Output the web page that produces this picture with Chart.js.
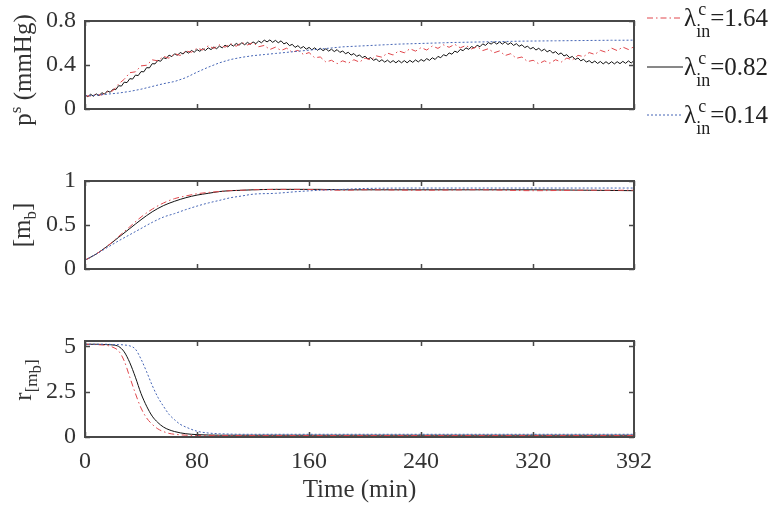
<!DOCTYPE html>
<html>
<head>
<meta charset="utf-8">
<script src="https://cdn.jsdelivr.net/npm/chart.js@4/dist/chart.umd.min.js"></script>
<style>
  body { margin: 0; background: #fff; }
  #wrap { position: relative; width: 776px; height: 508px; font-family: "Liberation Serif", "Times New Roman", serif; color: #333; }
  canvas { position: absolute; left: 0; }
  .ytitle { position: absolute; transform: translate(-50%, -50%) rotate(-90deg); white-space: nowrap; font-size: 25px; line-height: 1; }
  .ytitle sup, .ytitle sub { font-size: 17px; line-height: 0; }
  .leg { position: absolute; left: 647px; height: 30px; display: flex; align-items: center; font-size: 25px; color: #222; white-space: nowrap; }
  .leg svg { margin-right: 1px; }
  .ss { display: inline-block; position: relative; width: 14px; height: 30px; }
  .ss .c { position: absolute; left: 2px; top: -4px; font-size: 18px; }
  .ss .in { position: absolute; left: 0; top: 18px; font-size: 18px; }
</style>
</head>
<body>
<div id="wrap">
  <canvas id="pTop" width="776" height="130" style="top:0"></canvas>
  <canvas id="pMid" width="776" height="130" style="top:160px"></canvas>
  <canvas id="pBot" width="776" height="188" style="top:320px"></canvas>

  <div class="ytitle" style="left:22px;top:70px">p<sup>s</sup> (mmHg)</div>
  <div class="ytitle" style="left:21px;top:225px">[m<sub>b</sub>]</div>
  <div class="ytitle" style="left:23px;top:380px">r<sub>[m<sub>b</sub>]</sub></div>

  <div class="leg" style="top:3px">
    <svg width="36" height="4"><line x1="0" y1="2" x2="36" y2="2" stroke="#e0474c" stroke-width="1" stroke-dasharray="6,3,1.5,3"/></svg>
    <span>λ</span><span class="ss"><span class="c">c</span><span class="in">in</span></span><span>=1.64</span>
  </div>
  <div class="leg" style="top:52px">
    <svg width="36" height="4"><line x1="0" y1="2" x2="36" y2="2" stroke="#111" stroke-width="1"/></svg>
    <span>λ</span><span class="ss"><span class="c">c</span><span class="in">in</span></span><span>=0.82</span>
  </div>
  <div class="leg" style="top:100px">
    <svg width="36" height="4"><line x1="0" y1="2" x2="36" y2="2" stroke="#4565b5" stroke-width="1" stroke-dasharray="2,2"/></svg>
    <span>λ</span><span class="ss"><span class="c">c</span><span class="in">in</span></span><span>=0.14</span>
  </div>
</div>

<script>
// ---- data ----
const xTicks = [0, 80, 160, 240, 320, 392];
const yTicksTop = [0, 0.4, 0.8];
const yTicksMid = [0, 0.5, 1];
const yTicksBot = [0, 2.5, 5];

// p^s, lambda=0.82, sampled every 2 min
const psBlack = [
  .130, .112, .134, .116, .138, .120, .148, .136, .164, .152,
  .180, .176, .212, .208, .244, .240, .276, .272, .308, .304,
  .340, .338, .376, .374, .412, .410, .442, .434, .466, .458,
  .490, .476, .502, .488, .514, .500, .524, .508, .532, .516,
  .540, .524, .548, .532, .556, .540, .564, .548, .572, .556,
  .580, .564, .588, .572, .596, .580, .602, .584, .606, .588,
  .610, .594, .618, .602, .626, .610, .628, .606, .624, .602,
  .620, .592, .604, .576, .588, .560, .576, .552, .568, .544,
  .560, .538, .556, .534, .552, .530, .548, .526, .544, .522,
  .540, .514, .528, .502, .516, .490, .504, .478, .492, .466,
  .480, .454, .468, .442, .456, .430, .448, .426, .444, .422,
  .440, .420, .440, .420, .440, .420, .442, .424, .446, .428,
  .450, .434, .458, .442, .466, .450, .478, .466, .494, .482,
  .510, .498, .526, .514, .542, .530, .556, .542, .568, .554,
  .580, .566, .592, .578, .604, .590, .610, .590, .610, .590,
  .610, .586, .602, .578, .594, .570, .584, .558, .572, .546,
  .560, .536, .552, .528, .544, .520, .534, .508, .522, .496,
  .510, .482, .494, .466, .478, .450, .464, .438, .452, .426,
  .440, .418, .436, .414, .432, .410, .430, .410, .430, .410,
  .430, .412, .433, .415, .437, .418, .440
];
// p^s, lambda=1.64, sampled every 4 min
const psRed = [
  .120, .118, .130, .128, .156, .166, .228, .270, .330, .338,
  .392, .398, .447, .438, .478, .462, .503, .487, .528, .516,
  .553, .537, .574, .551, .584, .562, .593, .571, .604, .582,
  .603, .566, .578, .541, .562, .532, .553, .516, .533, .496,
  .513, .466, .473, .427, .443, .412, .438, .417, .448, .426,
  .463, .446, .483, .471, .508, .491, .528, .511, .548, .526,
  .558, .536, .573, .551, .583, .561, .588, .556, .578, .546,
  .568, .531, .548, .511, .528, .486, .503, .461, .473, .431,
  .443, .411, .438, .416, .448, .426, .463, .446, .488, .476,
  .513, .496, .533, .516, .553, .531, .563, .541, .565
];
// p^s, lambda=0.14, sampled every 8 min
const psBlue = [
  .120, .125, .135, .145, .160, .180, .205, .230, .250, .285,
  .335, .380, .420, .450, .470, .485, .495, .505, .515, .525,
  .535, .545, .555, .565, .570, .575, .580, .585, .590, .593,
  .596, .599, .602, .605, .607, .609, .611, .613, .615, .617,
  .618, .619, .620, .621, .622, .623, .624, .625, .625, .626
];

const tMid = [0, 8, 16, 24, 32, 40, 48, 56, 64, 72, 80, 88, 96, 104, 112, 120, 136, 152, 168, 184, 200, 240, 280, 320, 360, 392];
const mbRed   = [.10, .17, .26, .37, .48, .59, .68, .75, .80, .83, .855, .87, .88, .89, .895, .90, .905, .905, .90, .895, .90, .895, .90, .89, .895, .895];
const mbBlack = [.10, .17, .26, .36, .46, .56, .65, .72, .77, .81, .84, .86, .88, .89, .895, .90, .905, .905, .905, .90, .90, .90, .90, .90, .895, .89];
const mbBlue  = [.10, .17, .245, .32, .39, .46, .53, .59, .63, .675, .715, .75, .78, .81, .83, .85, .86, .88, .895, .905, .915, .92, .92, .92, .92, .92];

const tBot = [0, 8, 16, 20, 24, 28, 32, 36, 40, 44, 48, 52, 56, 60, 64, 68, 72, 80, 88, 96, 104, 112, 128, 160, 200, 240, 280, 320, 360, 392];
const rRed   = [5.12, 5.1, 5.05, 4.95, 4.75, 4.2, 3.3, 2.4, 1.6, 1.05, .7, .45, .3, .2, .15, .12, .1, .08, .08, .08, .08, .08, .08, .08, .08, .08, .08, .08, .08, .08];
const rBlack = [5.12, 5.12, 5.1, 5.08, 5.0, 4.7, 4.1, 3.3, 2.4, 1.7, 1.15, .8, .55, .4, .3, .23, .18, .13, .11, .1, .1, .1, .1, .1, .1, .1, .1, .1, .1, .1];
const rBlue  = [5.12, 5.12, 5.12, 5.1, 5.1, 5.08, 5.03, 4.85, 4.3, 3.6, 2.85, 2.2, 1.7, 1.25, .95, .7, .55, .32, .22, .18, .16, .15, .15, .15, .15, .15, .15, .15, .15, .15];

// ---- helpers ----
const FONT = '"Liberation Serif", "Times New Roman", serif';

function grid(step, n) {
  const out = [];
  for (let i = 0; i < n; i++) out.push(i * step);
  return out;
}
function pts(times, vals) {
  return vals.map((v, i) => ({ x: times[i], y: v }));
}

const styles = {
  red:   { borderColor: '#e0474c', borderWidth: 1, borderDash: [6, 3, 1.5, 3] },
  black: { borderColor: '#111111', borderWidth: 1 },
  blue:  { borderColor: '#4565b5', borderWidth: 1, borderDash: [2, 2] }
};

// box around the plot and inward tick marks on all four sides
const framePlugin = {
  id: 'frame',
  afterDraw(chart, args, opts) {
    const { ctx, chartArea: a, scales } = chart;
    const len = 5;
    ctx.save();
    ctx.strokeStyle = '#484848';
    ctx.lineWidth = 1.5;
    ctx.beginPath();
    xTicks.forEach(v => {
      const px = Math.round(scales.x.getPixelForValue(v)) + 0.5;
      ctx.moveTo(px, a.bottom); ctx.lineTo(px, a.bottom - len);
      ctx.moveTo(px, a.top); ctx.lineTo(px, a.top + len);
    });
    opts.yTicks.forEach(v => {
      const py = Math.round(scales.y.getPixelForValue(v)) + 0.5;
      ctx.moveTo(a.left, py); ctx.lineTo(a.left + len, py);
      ctx.moveTo(a.right, py); ctx.lineTo(a.right - len, py);
    });
    ctx.stroke();
    ctx.lineWidth = 2;
    ctx.strokeRect(a.left, a.top, a.right - a.left, a.bottom - a.top);
    ctx.restore();
  }
};

function makePanel(id, cfg) {
  return new Chart(document.getElementById(id), {
    type: 'line',
    data: { datasets: cfg.datasets },
    plugins: [framePlugin],
    options: {
      responsive: false,
      animation: false,
      layout: { padding: { top: cfg.padTop, right: 142, left: 0, bottom: 0 } },
      elements: { point: { radius: 0 }, line: { tension: 0, fill: false } },
      plugins: {
        legend: { display: false },
        tooltip: { enabled: false },
        frame: { yTicks: cfg.yTicks }
      },
      scales: {
        x: {
          type: 'linear',
          min: 0,
          max: 392,
          afterBuildTicks: s => { s.ticks = xTicks.map(v => ({ value: v })); },
          afterFit: s => { s.height = cfg.xHeight; },
          grid: { display: false, drawTicks: false },
          border: { display: false },
          ticks: {
            display: cfg.showX,
            color: '#333',
            padding: 13,
            maxRotation: 0,
            autoSkip: false,
            font: { family: FONT, size: 24, lineHeight: 1 },
            callback: v => String(v)
          },
          title: {
            display: cfg.showX,
            text: 'Time (min)',
            color: '#333',
            padding: { top: 0, bottom: 3 },
            font: { family: FONT, size: 25 }
          }
        },
        y: {
          min: cfg.yMin,
          max: cfg.yMax,
          afterBuildTicks: s => { s.ticks = cfg.yTicks.map(v => ({ value: v })); },
          afterFit: s => { s.width = 85; },
          grid: { display: false, drawTicks: false },
          border: { display: false },
          ticks: {
            color: '#333',
            padding: 9,
            font: { family: FONT, size: 24, lineHeight: 1 },
            callback: v => String(v)
          }
        }
      }
    }
  });
}

makePanel('pTop', {
  padTop: 13, xHeight: 12, showX: false,
  yMin: 0, yMax: 0.8, yTicks: yTicksTop,
  datasets: [
    { data: pts(grid(8, psBlue.length), psBlue), ...styles.blue },
    { data: pts(grid(4, psRed.length), psRed), ...styles.red },
    { data: pts(grid(2, psBlack.length), psBlack), ...styles.black }
  ]
});

makePanel('pMid', {
  padTop: 12, xHeight: 12, showX: false,
  yMin: 0, yMax: 1, yTicks: yTicksMid,
  datasets: [
    { data: pts(tMid, mbBlue), ...styles.blue, cubicInterpolationMode: 'monotone' },
    { data: pts(tMid, mbRed), ...styles.red, cubicInterpolationMode: 'monotone' },
    { data: pts(tMid, mbBlack), ...styles.black, cubicInterpolationMode: 'monotone' }
  ]
});

makePanel('pBot', {
  padTop: 11, xHeight: 71, showX: true,
  yMin: 0, yMax: 5.3, yTicks: yTicksBot,
  datasets: [
    { data: pts(tBot, rBlue), ...styles.blue, cubicInterpolationMode: 'monotone' },
    { data: pts(tBot, rRed), ...styles.red, cubicInterpolationMode: 'monotone' },
    { data: pts(tBot, rBlack), ...styles.black, cubicInterpolationMode: 'monotone' }
  ]
});
</script>
</body>
</html>
